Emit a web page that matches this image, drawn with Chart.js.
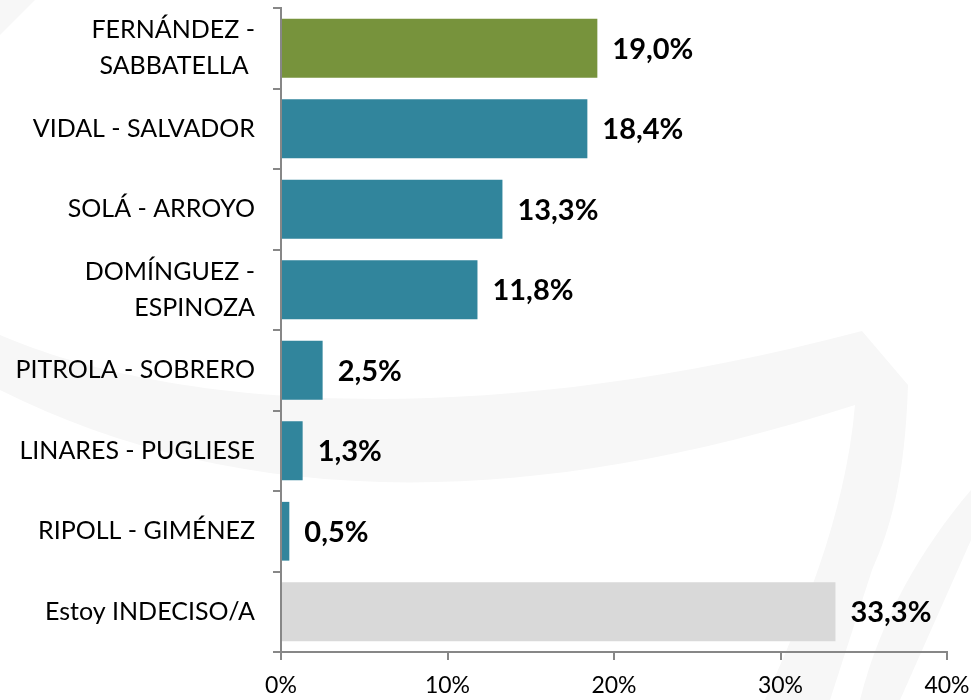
<!DOCTYPE html>
<html>
<head>
<meta charset="utf-8">
<script src="https://cdn.jsdelivr.net/npm/chart.js@4"></script>
<style>
    html, body { margin: 0; padding: 0; background: #ffffff; }
    #wrap { width: 971px; height: 700px; position: relative; }
</style>
</head>
<body>
<div id="wrap"><canvas id="myChart"></canvas></div>
<script>
// categorías (fórmulas) y porcentajes
const labels = [
    ["FERNÁNDEZ -", "SABBATELLA "],
    "VIDAL - SALVADOR",
    "SOLÁ - ARROYO",
    ["DOMÍNGUEZ -", "ESPINOZA"],
    "PITROLA - SOBRERO",
    "LINARES - PUGLIESE",
    "RIPOLL - GIMÉNEZ",
    "Estoy INDECISO/A"
];
const values = [19.0, 18.4, 13.3, 11.8, 2.5, 1.3, 0.5, 33.3];
const xTicks = [0, 10, 20, 30, 40];

const barColors = ["#77933C", "#31859C", "#31859C", "#31859C", "#31859C", "#31859C", "#31859C", "#D9D9D9"];

// etiqueta de valor al final de cada barra
const valueLabels = {
    id: "valueLabels",
    afterDatasetsDraw(chart) {
        const ctx = chart.ctx;
        const meta = chart.getDatasetMeta(0);
        ctx.save();
        ctx.font = "bold 29px Lato";
        ctx.fillStyle = "#000000";
        ctx.textAlign = "left";
        ctx.textBaseline = "middle";
        meta.data.forEach(function (bar, i) {
            let txt = values[i].toFixed(1).replace(".", ",") + "%";
            ctx.fillText(txt, bar.x + 15, bar.y + 1);
        });
        ctx.restore();
    }
};

// marca de agua gris muy clara del fondo
const watermark = {
    id: "watermark",
    beforeDraw(chart) {
        const ctx = chart.ctx;
        ctx.save();
        ctx.fillStyle = "#F7F7F7";
        // banda curva que sube hacia la derecha
        ctx.beginPath();
        ctx.moveTo(0, 335);
        ctx.bezierCurveTo(150, 400, 450, 440, 862, 331);
        ctx.lineTo(908, 385);
        ctx.bezierCurveTo(905, 480, 890, 530, 872, 570);
        ctx.lineTo(830, 700);
        ctx.lineTo(765, 700);
        ctx.bezierCurveTo(800, 620, 845, 520, 855, 405);
        ctx.bezierCurveTo(500, 520, 220, 500, 0, 390);
        ctx.closePath();
        ctx.fill();
        // trazo diagonal a la derecha
        ctx.beginPath();
        ctx.moveTo(971, 490);
        ctx.lineTo(971, 540);
        ctx.lineTo(900, 700);
        ctx.lineTo(860, 700);
        ctx.bezierCurveTo(880, 620, 920, 550, 971, 490);
        ctx.closePath();
        ctx.fill();
        // esquina superior izquierda
        ctx.beginPath();
        ctx.moveTo(0, 0);
        ctx.lineTo(35, 0);
        ctx.lineTo(0, 35);
        ctx.closePath();
        ctx.fill();
        ctx.restore();
    }
};

let chartConfig = {
    type: "bar",
    data: {
        labels: labels,
        datasets: [
            {
                data: values,
                backgroundColor: barColors,
                borderWidth: 0,
                categoryPercentage: 1,
                barPercentage: 0.73
            }
        ]
    },
    options: {
        indexAxis: "y",
        responsive: false,
        animation: false,
        layout: {
            padding: { top: 8, right: 24, bottom: 0, left: 0 }
        },
        plugins: {
            legend: { display: false },
            tooltip: { enabled: false }
        },
        scales: {
            x: {
                min: 0,
                max: 40,
                afterBuildTicks: function (axis) {
                    axis.ticks = xTicks.map(function (v) { return { value: v }; });
                },
                afterFit: function (axis) {
                    axis.height = 48;
                    axis.paddingLeft = 0;
                    axis.paddingRight = 0;
                },
                border: { display: true, color: "#878787", width: 2 },
                grid: {
                    drawOnChartArea: false,
                    drawTicks: true,
                    tickLength: 8,
                    color: "#878787",
                    lineWidth: 2
                },
                ticks: {
                    color: "#000000",
                    font: { family: "Lato", size: 23 },
                    padding: 12,
                    maxRotation: 0,
                    callback: function (v) { return v + "%"; }
                }
            },
            y: {
                afterFit: function (axis) {
                    axis.width = 281;
                    axis.paddingTop = 0;
                    axis.paddingBottom = 0;
                },
                border: { display: true, color: "#878787", width: 2 },
                grid: {
                    drawOnChartArea: false,
                    drawTicks: true,
                    tickLength: 8,
                    color: "#878787",
                    lineWidth: 2
                },
                ticks: {
                    color: "#000000",
                    font: { family: "Lato", size: 25, lineHeight: 1.44 },
                    padding: 18
                }
            }
        }
    },
    plugins: [watermark, valueLabels]
};

const canvas = document.getElementById("myChart");
canvas.width = 971;
canvas.height = 700;
new Chart(canvas, chartConfig);
</script>
</body>
</html>
